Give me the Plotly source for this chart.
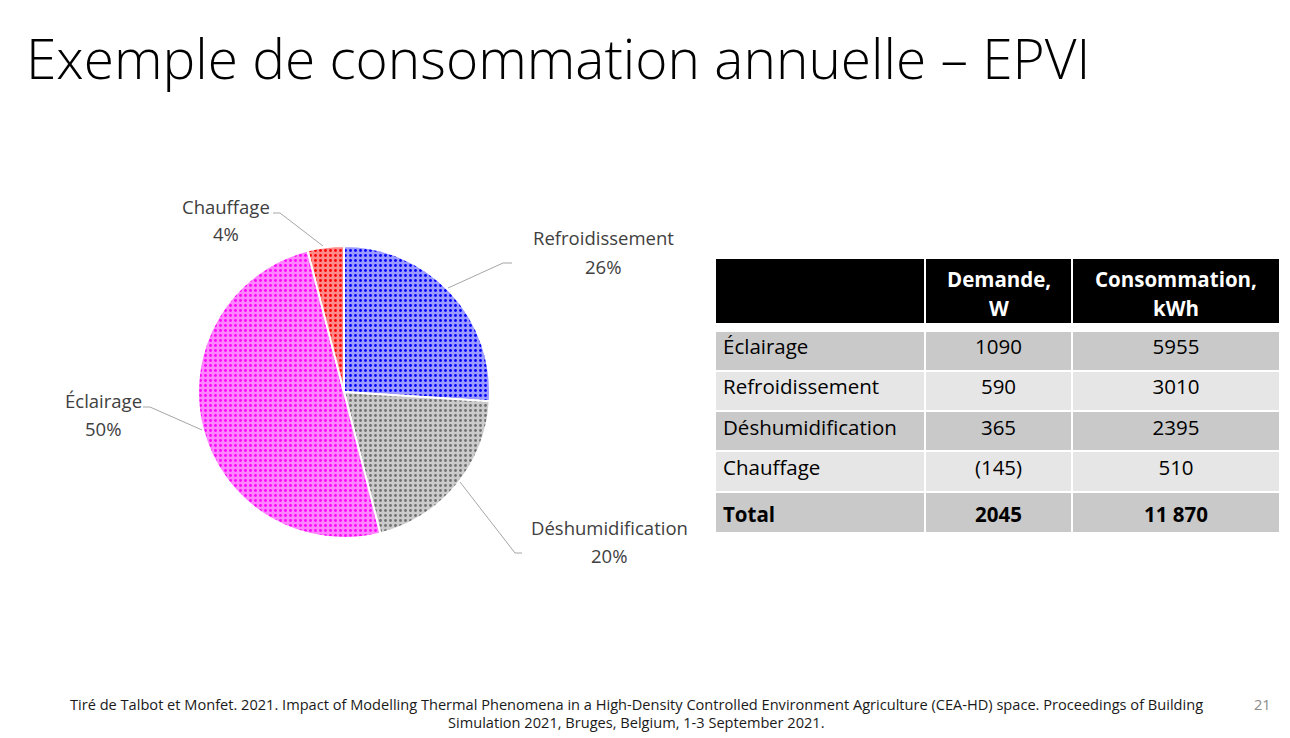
import plotly.graph_objects as go

# page offset of the plot inside the browser (body margin) is 8px
OFF = 8
W, H = 1290 - OFF, 738 - OFF

# ---- data ----
pie_labels = ["Refroidissement", "Déshumidification", "Éclairage", "Chauffage"]
pie_pct = [26, 20, 50, 4]
pie_base = ["#9a9aff", "#cbcbcb", "#ff85ff", "#ff8a8a"]
pie_dots = ["#0000ff", "#707070", "#ff00ff", "#ff0000"]

hdr_line1 = ["", "Demande,", "Consommation,"]
hdr_line2 = ["", "W", "kWh"]
tbl_rows = ["Éclairage", "Refroidissement", "Déshumidification", "Chauffage", "<b>Total</b>"]
tbl_demande = ["1090", "590", "365", "(145)", "<b>2045</b>"]
tbl_conso = ["5955", "3010", "2395", "510", "<b>11 870</b>"]

title_text = "Exemple de consommation annuelle – EPVI"
source_line1 = ("Tiré de Talbot et Monfet. 2021. Impact of Modelling Thermal Phenomena in a High-Density "
                "Controlled Environment Agriculture (CEA-HD) space. Proceedings of Building")
source_line2 = "Simulation 2021, Bruges, Belgium, 1-3 September 2021."
page_no = "21"

FONT = "Open Sans"


def px(x):
    return (x - OFF) / W


def py(y):
    return 1 - (y - OFF) / H


fig = go.Figure()

# pie
cx, cy, r = 344, 392, 146
fig.add_trace(go.Pie(
    labels=pie_labels,
    values=pie_pct,
    sort=False,
    direction="clockwise",
    rotation=0,
    textinfo="none",
    hoverinfo="label+percent",
    showlegend=False,
    marker=dict(
        colors=pie_base,
        line=dict(color="white", width=2),
        pattern=dict(shape=".", fgcolor=pie_dots, bgcolor=pie_base,
                     size=5, solidity=0.25, fillmode="replace"),
    ),
    domain=dict(x=[px(cx - r), px(cx + r)], y=[py(cy + r), py(cy - r)]),
))

# table: header block
col_w = [210, 147, 208]
col_edges = [715, 925, 1072, 1280]
fig.add_trace(go.Table(
    domain=dict(x=[px(715), px(1280)], y=[py(324), py(258)]),
    columnwidth=col_w,
    header=dict(
        values=["", "", ""],
        fill_color="black",
        line=dict(color="white", width=2),
        height=66,
    ),
    cells=dict(values=[[], [], []]),
))

# table body (first data row drawn as the trace's header row, styled like a body row)
nrows = len(tbl_rows)
dark, light = "#c9c9c9", "#e6e6e6"
row_fill = [dark if i % 2 == 0 else light for i in range(nrows)]
body_font = dict(family=FONT, size=20.5, color="black")
fig.add_trace(go.Table(
    domain=dict(x=[px(715), px(1280)], y=[py(532), py(331)]),
    columnwidth=col_w,
    header=dict(
        values=[tbl_rows[0], tbl_demande[0], tbl_conso[0]],
        fill_color=row_fill[0],
        line=dict(color="white", width=2),
        align=["left", "center", "center"],
        height=40,
        font=body_font,
    ),
    cells=dict(
        values=[tbl_rows[1:], tbl_demande[1:], tbl_conso[1:]],
        fill_color=[row_fill[1:]] * 3,
        line=dict(color="white", width=2),
        align=["left", "center", "center"],
        height=40.2,
        font=body_font,
    ),
))

annotations = []
shapes = []

# header texts
for i in range(1, 3):
    xc = (col_edges[i] + col_edges[i + 1]) / 2
    annotations.append(dict(x=px(xc), y=py(279), xref="paper", yref="paper",
                            text=f"<b>{hdr_line1[i]}</b>", showarrow=False,
                            xanchor="center", yanchor="middle",
                            font=dict(family=FONT, size=20.5, color="white")))
    annotations.append(dict(x=px(xc), y=py(308), xref="paper", yref="paper",
                            text=f"<b>{hdr_line2[i]}</b>", showarrow=False,
                            xanchor="center", yanchor="middle",
                            font=dict(family=FONT, size=20.5, color="white")))

# pie labels and leader lines
label_pos = {
    "Refroidissement": (603, 238, 266),
    "Déshumidification": (609, 527, 555),
    "Éclairage": (103, 401, 428),
    "Chauffage": (226, 207, 234),
}
leaders = {
    "Refroidissement": [(448, 288), (503, 263), (512, 263)],
    "Déshumidification": [(460, 482), (515, 553), (522, 553)],
    "Éclairage": [(202, 430), (150, 407), (143, 407)],
    "Chauffage": [(323, 246), (280, 213), (273, 213)],
}
for lab, pct in zip(pie_labels, pie_pct):
    x, y1, y2 = label_pos[lab]
    annotations.append(dict(x=px(x), y=py(y1), xref="paper", yref="paper", text=lab,
                            showarrow=False, xanchor="center", yanchor="middle",
                            font=dict(family=FONT, size=18.5, color="#404040")))
    annotations.append(dict(x=px(x), y=py(y2), xref="paper", yref="paper", text=f"{pct}%",
                            showarrow=False, xanchor="center", yanchor="middle",
                            font=dict(family=FONT, size=18.5, color="#404040")))
    pts = leaders[lab]
    path = "M " + " L ".join(f"{px(a)},{py(b)}" for a, b in pts)
    shapes.append(dict(type="path", xref="paper", yref="paper", path=path,
                       line=dict(color="#a6a6a6", width=1)))

# title
annotations.append(dict(x=px(24), y=py(57), xref="paper", yref="paper", text=title_text,
                        showarrow=False, xanchor="left", yanchor="middle",
                        font=dict(family=FONT, size=55, color="black", weight=300)))
# source
annotations.append(dict(x=px(636), y=py(704), xref="paper", yref="paper", text=source_line1,
                        showarrow=False, xanchor="center", yanchor="middle",
                        font=dict(family=FONT, size=14.6, color="#1a1a1a")))
annotations.append(dict(x=px(636), y=py(722), xref="paper", yref="paper", text=source_line2,
                        showarrow=False, xanchor="center", yanchor="middle",
                        font=dict(family=FONT, size=14.6, color="#1a1a1a")))
annotations.append(dict(x=px(1262), y=py(704), xref="paper", yref="paper", text=page_no,
                        showarrow=False, xanchor="center", yanchor="middle",
                        font=dict(family=FONT, size=14.6, color="#8c8c8c")))

fig.update_layout(
    width=W, height=H,
    margin=dict(l=0, r=0, t=0, b=0),
    paper_bgcolor="white",
    plot_bgcolor="white",
    annotations=annotations,
    shapes=shapes,
    font=dict(family=FONT),
)

fig.write_html("out.html", config={"displayModeBar": False})
